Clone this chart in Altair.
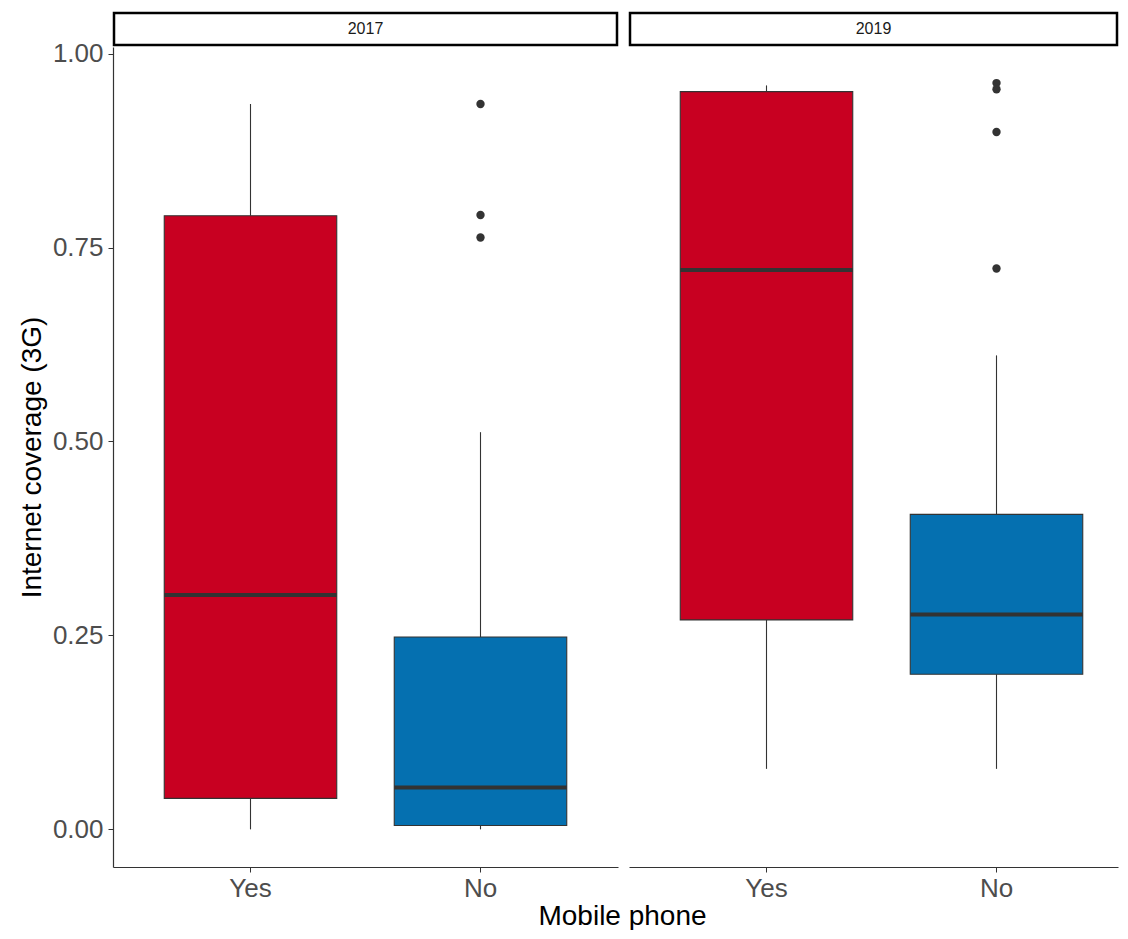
import altair as alt
import pandas as pd

# ---- data ----
years = ["2017", "2017", "2019", "2019"]
phones = ["Yes", "No", "Yes", "No"]
whisker_low = [0.000, 0.000, 0.078, 0.078]
q1 = [0.040, 0.005, 0.270, 0.200]
median = [0.302, 0.054, 0.721, 0.277]
q3 = [0.791, 0.248, 0.951, 0.406]
whisker_high = [0.935, 0.512, 0.959, 0.611]

out_years = ["2017", "2017", "2017", "2019", "2019", "2019", "2019"]
out_phones = ["No", "No", "No", "No", "No", "No", "No"]
out_values = [0.935, 0.792, 0.763, 0.962, 0.954, 0.899, 0.723]

categories = ["Yes", "No"]
colors = ["#C80021", "#0570B0"]
y_ticks = [0.0, 0.25, 0.5, 0.75, 1.0]

stats = pd.DataFrame({"year": years, "phone": phones, "low": whisker_low,
                      "q1": q1, "median": median, "q3": q3, "high": whisker_high})
outliers = pd.DataFrame({"year": out_years, "phone": out_phones, "value": out_values})

FONT = "Liberation Sans"
DARK = "#333333"
yscale = alt.Scale(domain=[-0.0485, 1.0085], nice=False, zero=False)
H = 820


def panel(year, width, po, align, first):
    d = stats[stats["year"] == year]
    o = outliers[outliers["year"] == year]
    xscale = alt.Scale(type="band", domain=categories, paddingInner=0,
                       paddingOuter=po, align=align)
    axis_kw = dict(labelFontSize=26, labelColor="#4D4D4D", labelFont=FONT,
                   tickColor=DARK, tickSize=5, domainColor=DARK, domainWidth=1.2,
                   labelPadding=3, labelAngle=0, grid=False)
    if first:
        xaxis = alt.Axis(title="Mobile phone", titleFontSize=28, titleFont=FONT,
                         titleColor="black", titleFontWeight="normal",
                         titleX=509, titleY=49, titleAlign="center",
                         titleBaseline="middle", **axis_kw)
    else:
        xaxis = alt.Axis(title=None, **axis_kw)
    x = alt.X("phone:N", scale=xscale, axis=xaxis, sort=categories)
    if first:
        yaxis = alt.Axis(title="Internet coverage (3G)", values=y_ticks, format=".2f",
                         titleFontSize=28, titleFont=FONT, titleColor="black",
                         titleFontWeight="normal", titlePadding=6,
                         labelFontSize=26, labelColor="#4D4D4D", labelFont=FONT,
                         tickColor=DARK, tickSize=5, domainColor=DARK,
                         domainWidth=1.2, labelPadding=5, grid=False)
    else:
        yaxis = None

    base = alt.Chart(d)
    lower_w = base.mark_rule(color=DARK, strokeWidth=1.1).encode(
        x=x, y=alt.Y("low:Q", scale=yscale, axis=yaxis), y2="q1:Q")
    upper_w = base.mark_rule(color=DARK, strokeWidth=1.1).encode(
        x=x, y=alt.Y("q3:Q", scale=yscale), y2="high:Q")
    box = base.mark_bar(width=alt.RelativeBandSize(0.75), stroke=DARK,
                        strokeWidth=1.1, opacity=1).encode(
        x=x, y=alt.Y("q1:Q", scale=yscale), y2="q3:Q",
        color=alt.Color("phone:N", scale=alt.Scale(domain=categories, range=colors),
                        legend=None))
    step = width / (2 + 2 * po)
    med = base.mark_tick(color=DARK, thickness=4, size=0.75 * step,
                         opacity=1).encode(
        x=x, y=alt.Y("median:Q", scale=yscale))
    pts = alt.Chart(o).mark_circle(color=DARK, opacity=1, size=70).encode(
        x=x, y=alt.Y("value:Q", scale=yscale))

    strip_df = pd.DataFrame({"label": [year]})
    strip = alt.Chart(strip_df).mark_rect(fill="white", stroke="black",
                                          strokeWidth=2.5).encode(
        x=alt.value(1), x2=alt.value(width - 1), y=alt.value(-34), y2=alt.value(-2))
    strip_text = alt.Chart(strip_df).mark_text(font=FONT, fontSize=16,
                                               color="#1A1A1A").encode(
        x=alt.value(width / 2), y=alt.value(-18), text="label:N")

    return alt.layer(lower_w, upper_w, box, med, pts, strip, strip_text).properties(
        width=width, height=H)


# panel 1: step 230 -> outer padding 22.5 px each side
p1 = panel("2017", 505, 22.5 / 230, 0.5, True)
# panel 2: same step, running to the right edge of the page
p2 = panel("2019", 489, 14.5 / 230, 22.5 / 29, False)

chart = alt.hconcat(p1, p2, spacing=11, bounds="flush").configure_view(
    stroke=None).properties(
    padding={"top": 3, "left": 10, "right": 0, "bottom": 0},
    background="white")

chart.save("out.html", embed_options={"renderer": "svg", "actions": False})
